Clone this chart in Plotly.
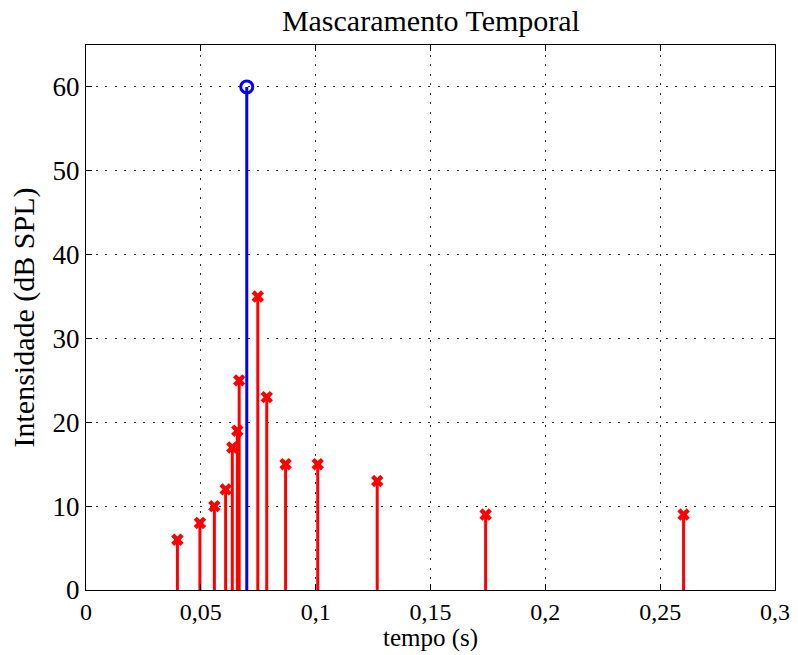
import plotly.graph_objects as go

# Data
masker_t = [0.07]
masker_db = [60]
mask_t = [0.0398, 0.0496, 0.0559, 0.0608, 0.0637, 0.0659, 0.0667,
          0.0748, 0.0787, 0.0869, 0.1009, 0.1268, 0.1740, 0.2602]
mask_db = [6, 8, 10, 12, 17, 19, 25, 35, 23, 15, 15, 13, 9, 9]
x_ticks = [0, 0.05, 0.1, 0.15, 0.2, 0.25, 0.3]
x_ticktext = ["0", "0,05", "0,1", "0,15", "0,2", "0,25", "0,3"]
y_ticks = [0, 10, 20, 30, 40, 50, 60]

def stems(xs, ys):
    sx, sy = [], []
    for a, b in zip(xs, ys):
        sx += [a, a, None]
        sy += [0, b, None]
    return sx, sy

FONT = "Liberation Serif"
fig = go.Figure()
sx, sy = stems(mask_t, mask_db)
fig.add_trace(go.Scatter(x=sx, y=sy, mode="lines", line=dict(color="red", width=3),
                         showlegend=False, hoverinfo="skip"))
fig.add_trace(go.Scatter(x=mask_t, y=mask_db, mode="markers",
                         marker=dict(symbol="x", size=11, color="red"), showlegend=False))
bx, by = stems(masker_t, masker_db)
fig.add_trace(go.Scatter(x=bx, y=by, mode="lines", line=dict(color="blue", width=3),
                         showlegend=False, hoverinfo="skip"))
fig.add_trace(go.Scatter(x=masker_t, y=masker_db, mode="markers",
                         marker=dict(symbol="circle-open", size=12, color="blue",
                                     line=dict(width=3, color="blue")), showlegend=False))

axis_common = dict(showline=True, linecolor="black", linewidth=1.3, mirror="ticks",
                   ticks="inside", ticklen=6, tickcolor="black", showgrid=True,
                   gridcolor="#333333", gridwidth=1, griddash="2px,7.5px", zeroline=False,
                   automargin=False,
                   tickfont=dict(family=FONT, size=27, color="black"))
fig.update_xaxes(range=[0, 0.3], tickvals=x_ticks, ticktext=x_ticktext, **axis_common)
fig.update_xaxes(tickfont_size=24)
fig.update_yaxes(range=[0, 65], tickvals=y_ticks,
                 title=dict(text="Intensidade (dB SPL)", font=dict(family=FONT, size=30, color="black"), standoff=8),
                 **axis_common)
fig.update_layout(width=798, height=655, margin=dict(l=86, r=23, t=45, b=65),
                  paper_bgcolor="white", plot_bgcolor="white",
                  title=dict(text="Mascaramento Temporal", x=0.54, xanchor="center", y=0.985, yanchor="top",
                             font=dict(family=FONT, size=30, color="black")),
                  annotations=[dict(text="tempo (s)", xref="paper", yref="paper", x=0.5, y=-0.1183,
                                    xanchor="center", yanchor="bottom", showarrow=False,
                                    font=dict(family=FONT, size=25, color="black"))])
fig.write_html("out.html")
